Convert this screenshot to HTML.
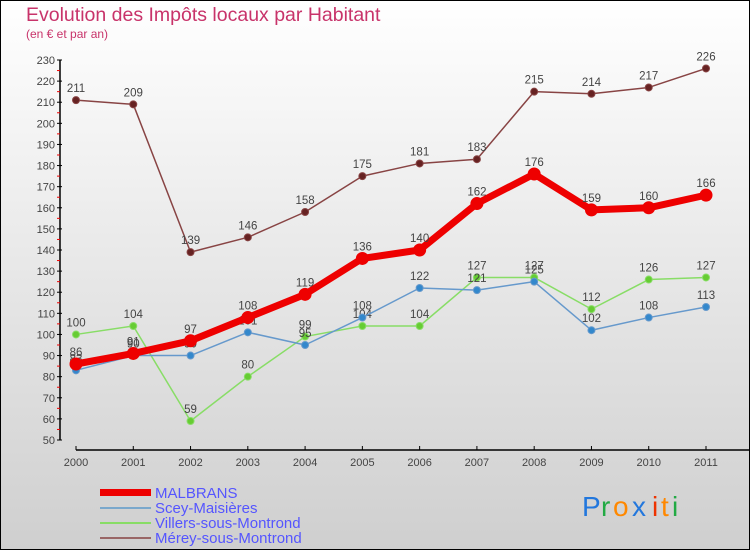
<!DOCTYPE html>
<html><head><meta charset="utf-8"><style>
body{margin:0;width:750px;height:550px;overflow:hidden}
svg{display:block}
text{font-family:"Liberation Sans","DejaVu Sans",sans-serif}
</style></head><body>
<svg id="c" width="750" height="550" xmlns="http://www.w3.org/2000/svg">
<defs><linearGradient id="bg" x1="0" y1="0" x2="0" y2="1"><stop offset="0" stop-color="#ffffff"/><stop offset="1" stop-color="#cfcfcf"/></linearGradient></defs>
<rect x="0.5" y="0.5" width="749" height="549" fill="url(#bg)" stroke="#000"/>
<text x="26" y="21" font-size="19.5" fill="#c8336a">Evolution des Impôts locaux par Habitant</text>
<text x="26" y="38" font-size="12" fill="#c8336a">(en € et par an)</text>
<g id="axes"></g><g id="series"></g>
<g>
<rect x="100" y="489" width="51" height="7" fill="#ee0000"/>
<text x="155" y="498" font-size="15" fill="#5555ff">MALBRANS</text>
<rect x="100" y="507" width="51" height="2" fill="#7aa8cc"/>
<text x="155" y="513" font-size="15" fill="#5555ff">Scey-Maisières</text>
<rect x="100" y="522" width="51" height="2" fill="#88dd66"/>
<text x="155" y="528" font-size="15" fill="#5555ff">Villers-sous-Montrond</text>
<rect x="100" y="537" width="51" height="2" fill="#996666"/>
<text x="155" y="543" font-size="15" fill="#5555ff">Mérey-sous-Montrond</text>
</g>
<g font-size="28">
<text x="582" y="516" fill="#2277dd">P</text><text x="601" y="516" fill="#22aa44">r</text><text x="613" y="516" fill="#ff8800">o</text><text x="632" y="516" fill="#2277dd">x</text><text x="652" y="516" fill="#ee3300">i</text><text x="661" y="516" fill="#ff8800">t</text><text x="672" y="516" fill="#22aa44">i</text>
</g>
</svg>
<script>
const years=["2000","2001","2002","2003","2004","2005","2006","2007","2008","2009","2010","2011"];
const yTicks=[50,60,70,80,90,100,110,120,130,140,150,160,170,180,190,200,210,220,230];
const malbrans=[86,91,97,108,119,136,140,162,176,159,160,166];
const scey=[83,90,90,101,95,108,122,121,125,102,108,113];
const villers=[100,104,59,80,99,104,104,127,127,112,126,127];
const merey=[211,209,139,146,158,175,181,183,215,214,217,226];
const NS="http://www.w3.org/2000/svg";
const X=i=>76+i*(630/11);
const Y=v=>440-(v-50)*(380/180);
function mk(t,a,p){const e=document.createElementNS(NS,t);for(const k in a)e.setAttribute(k,a[k]);p.appendChild(e);return e;}
const ax=document.getElementById('axes');
mk('line',{x1:60,y1:60,x2:60,y2:440,stroke:'#000','stroke-width':1.5},ax);
yTicks.forEach(v=>{
 mk('line',{x1:57,y1:Y(v),x2:62,y2:Y(v),stroke:'#000'},ax);
 if(v<230)mk('line',{x1:57,y1:Y(v+5),x2:60,y2:Y(v+5),stroke:'#e00'},ax);
 const t=mk('text',{x:55,y:Y(v)+4,'font-size':11,fill:'#444','text-anchor':'end'},ax);t.textContent=v;
 
 
});
mk('line',{x1:76,y1:450,x2:750,y2:450,stroke:'#000','stroke-width':1.5},ax);
years.forEach((y,i)=>{
 mk('line',{x1:X(i),y1:446,x2:X(i),y2:450,stroke:'#000'},ax);
 const t=mk('text',{x:X(i),y:466,'font-size':11,fill:'#444','text-anchor':'middle'},ax);t.textContent=y;
 
 
});
const sg=document.getElementById('series');
function draw(name,data,color,w,r,dot){
 const g=mk('g',{},sg);
 
 
 mk('polyline',{points:data.map((v,i)=>X(i)+','+Y(v)).join(' '),fill:'none',stroke:color,'stroke-width':w,'stroke-linejoin':'round'},g);
 data.forEach((v,i)=>{
  const c=mk('circle',{cx:X(i),cy:Y(v),r:r,fill:dot,stroke:color,'stroke-width':1},g);
  
  
  const t=mk('text',{x:X(i),y:Y(v)-8,'font-size':11.5,fill:'#444','text-anchor':'middle'},g);t.textContent=v;
 });
}
draw('series-villers',villers,'#88dd66',1.5,3.5,'#66cc33');
draw('series-scey',scey,'#6699cc',1.5,3.5,'#3388cc');
draw('series-merey',merey,'#884444',1.5,3.5,'#662222');
draw('series-malbrans',malbrans,'#ee0000',7,6,'#ee0000');
</script>
</body></html>
